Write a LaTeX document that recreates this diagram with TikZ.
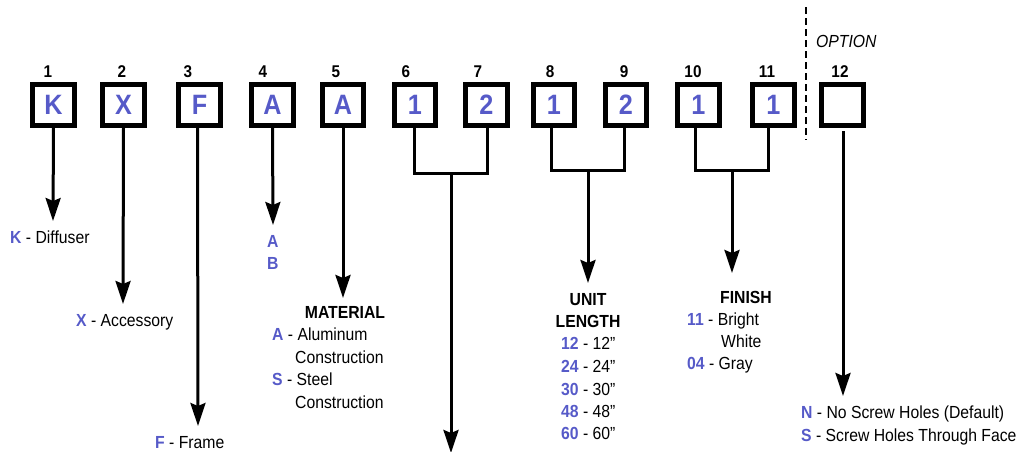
\documentclass[tikz,border=0pt]{standalone}
\usepackage{fontspec}
\setmainfont{Liberation Sans}[FakeStretch=0.9]
\usetikzlibrary{arrows.meta}
\definecolor{codeblue}{RGB}{86,90,200}
\newcommand\bl[1]{\textcolor{codeblue}{\bfseries #1}}
\begin{document}
\begin{tikzpicture}[x=1pt,y=-1pt,
 box/.style={draw,line width=4.6pt,minimum size=41.5pt,inner sep=0pt,font=\fontsize{28}{28}\selectfont\bfseries,text=codeblue},
 num/.style={font=\fontsize{17}{17}\selectfont\bfseries,anchor=base,inner sep=0pt},
 lbl/.style={font=\fontsize{17.5}{20}\selectfont,anchor=base west,inner sep=0pt},
 head/.style={font=\fontsize{17.5}{20}\selectfont\bfseries,anchor=base,inner sep=0pt},
 stem/.style={line width=3pt},
 arr/.style={stem,-{Stealth[length=23pt,width=15pt,inset=3pt]}}]
\useasboundingbox (0,0) rectangle (1021,451);
% boxes
\node[box] (b1) at (53.5,105) {K};
\node[box] (b2) at (123.5,105) {X};
\node[box] (b3) at (199.5,105) {F};
\node[box] (b4) at (272.5,105) {A};
\node[box] (b5) at (343,105) {A};
\node[box] (b6) at (415,105) {1};
\node[box] (b7) at (486.5,105) {2};
\node[box] (b8) at (554,105) {1};
\node[box] (b9) at (626,105) {2};
\node[box] (b10) at (698.5,105) {1};
\node[box] (b11) at (773.5,105) {1};
\node[box] (b12) at (842.5,105) {};
% numbers
\node[num] (n1) at (48,77) {1};
\node[num] (n2) at (122,77) {2};
\node[num] (n3) at (188,77) {3};
\node[num] (n4) at (263,77) {4};
\node[num] (n5) at (336,77) {5};
\node[num] (n6) at (406,77) {6};
\node[num] (n7) at (478,77) {7};
\node[num] (n8) at (550,77) {8};
\node[num] (n9) at (624,77) {9};
\node[num] (n10) at (693,77) {10};
\node[num] (n11) at (767,77) {11};
\node[num] (n12) at (840,77) {12};
% option divider
\coordinate (d1) at (806,7);
\coordinate (d2) at (806,140);
\draw[line width=2.8pt,dash pattern=on 7pt off 4pt] (d1) -- (d2);
\node[lbl,font=\fontsize{17.5}{20}\selectfont\itshape] (opt) at (816,47) {OPTION};
% arrow tips and junctions
\coordinate (t1) at (53,221);
\coordinate (t2) at (123,304);
\coordinate (t3) at (198,426);
\coordinate (t4) at (273,225);
\coordinate (t5) at (343,298);
\coordinate (j6) at (414,173);
\coordinate (j7) at (487,173);
\coordinate (m67) at (451,173);
\coordinate (t67) at (451,453);
\coordinate (j8) at (551,170);
\coordinate (j9) at (624,170);
\coordinate (m89) at (588,170);
\coordinate (t89) at (588,283);
\coordinate (j10) at (695,170);
\coordinate (j11) at (768,170);
\coordinate (m1011) at (732,170);
\coordinate (t1011) at (732,273);
\coordinate (s12) at (843,131);
\coordinate (t12) at (843,396);
% connectors
\draw[arr] (b1.south) -- (t1);
\draw[arr] (b2.south) -- (t2);
\draw[arr] ([xshift=-2pt]b3.south) -- (t3);
\draw[arr] (b4.south) -- (t4);
\draw[arr] (b5.south) -- (t5);
\draw[stem] (b6.south -| j6) -- (j6) -- (j7) -- (b7.south -| j7);
\draw[arr] (m67) -- (t67);
\draw[stem] (b8.south -| j8) -- (j8) -- (j9) -- (b9.south -| j9);
\draw[arr] (m89) -- (t89);
\draw[stem] (b10.south -| j10) -- (j10) -- (j11) -- (b11.south -| j11);
\draw[arr] (m1011) -- (t1011);
\draw[arr] (s12) -- (t12);
% labels
\node[lbl] (lk) at (10,243) {\bl{K} - Diffuser};
\node[lbl] (lx) at (76,326) {\bl{X} - Accessory};
\node[lbl] (lf) at (155,448) {\bl{F} - Frame};
\node[lbl] (la) at (267,247) {\bl{A}};
\node[lbl] (lb) at (267,269) {\bl{B}};
\node[head] (mat) at (345,318) {MATERIAL};
\node[lbl] (ma) at (272,340) {\bl{A} - Aluminum};
\node[lbl] (mc1) at (295,363) {Construction};
\node[lbl] (ms) at (272,385) {\bl{S} - Steel};
\node[lbl] (mc2) at (295,408) {Construction};
\node[head] (unit) at (588,305) {UNIT};
\node[head] (len) at (588,327) {LENGTH};
\node[lbl] (u12) at (561,349) {\bl{12} - 12”};
\node[lbl] (u24) at (561,372) {\bl{24} - 24”};
\node[lbl] (u30) at (561,395) {\bl{30} - 30”};
\node[lbl] (u48) at (561,417) {\bl{48} - 48”};
\node[lbl] (u60) at (561,439) {\bl{60} - 60”};
\node[head] (fin) at (746,303) {FINISH};
\node[lbl] (f11) at (687,325) {\bl{11} - Bright};
\node[lbl] (fw) at (721,347) {White};
\node[lbl] (f04) at (687,369) {\bl{04} - Gray};
\node[lbl] (on) at (801,418) {\bl{N} - No Screw Holes (Default)};
\node[lbl] (os) at (801,441) {\bl{S} - Screw Holes Through Face};
\end{tikzpicture}
\end{document}
